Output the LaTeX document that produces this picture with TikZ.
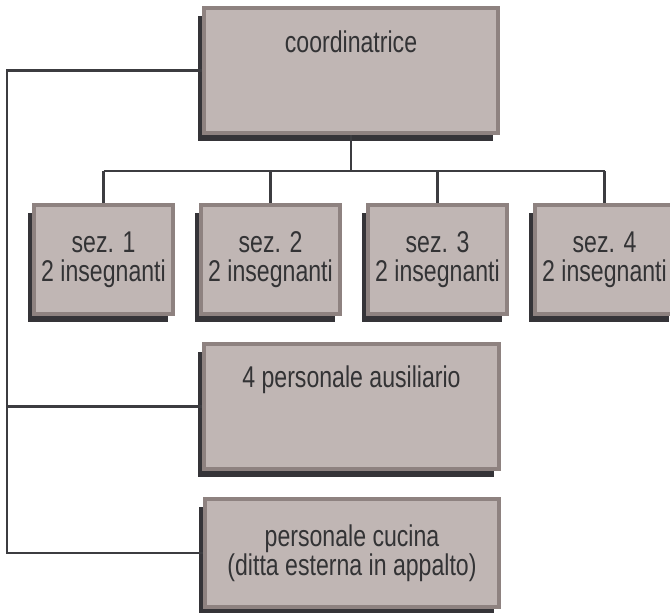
\documentclass[tikz,border=0pt]{standalone}
\usepackage{fontspec}
\setmainfont{Liberation Sans}[FakeStretch=0.77]
\usetikzlibrary{positioning,backgrounds}
\definecolor{boxfill}{HTML}{C0B6B4}
\definecolor{boxedge}{HTML}{8E8280}
\definecolor{boxshade}{HTML}{353438}
\definecolor{linkcol}{HTML}{3C3C40}
\definecolor{txtcol}{HTML}{333335}
\tikzset{
	orgbox/.style={draw=boxedge, line width=4pt, fill=boxfill, inner sep=0pt, align=center,
		text=txtcol, font=\fontsize{30}{29}\selectfont},
	orgtext/.style={text=txtcol, font=\fontsize{30}{29}\selectfont, inner sep=0pt},
	link/.style={draw=linkcol, line width=2.2pt},
}

\begin{document}
\begin{tikzpicture}[x=1pt,y=-1pt]
		\useasboundingbox (0,0) rectangle (670,613);
		\node[orgbox, minimum width=294pt, minimum height=125pt] (coord) at (351,70.5) {};
		\node[orgtext, anchor=base] (coordname) at ([yshift=-46pt]coord.north) {coordinatrice};
		\foreach \i in {1,...,4}
			\node[orgbox, minimum width=139pt, minimum height=109pt] (sez\i) at ({103.5+167*(\i-1)},259.5) {sez. \i\\2 insegnanti};
		\node[orgbox, minimum width=295pt, minimum height=125pt] (aus) at (351.5,406.5) {};
		\node[orgtext, anchor=base] (ausname) at ([yshift=-45pt]aus.north) {4 personale ausiliario};
		\node[orgbox, minimum width=294pt, minimum height=108pt] (cuc) at (352,553) {personale cucina\\(ditta esterna in appalto)};
		\coordinate (bus) at (351,171);
		\coordinate (rail) at (7,0);
		\draw[link] (coord.south) -- (bus);
		\draw[link] (sez1.north |- bus) -- (sez4.north |- bus);
		\foreach \i in {1,...,4}
			\draw[link] (sez\i.north |- bus) -- (sez\i.north);
		\draw[link] (coord.west) -| (rail |- cuc.west) -- (cuc.west);
		\draw[link] (rail |- aus.west) -- (aus.west);
		\begin{scope}[on background layer]
			\foreach \b in {coord,sez1,sez2,sez3,sez4,aus,cuc}
				\fill[boxshade] ([shift={(-4,10)}]\b.north west) rectangle ([shift={(-7,6)}]\b.south east);
		\end{scope}
\end{tikzpicture}
\end{document}
